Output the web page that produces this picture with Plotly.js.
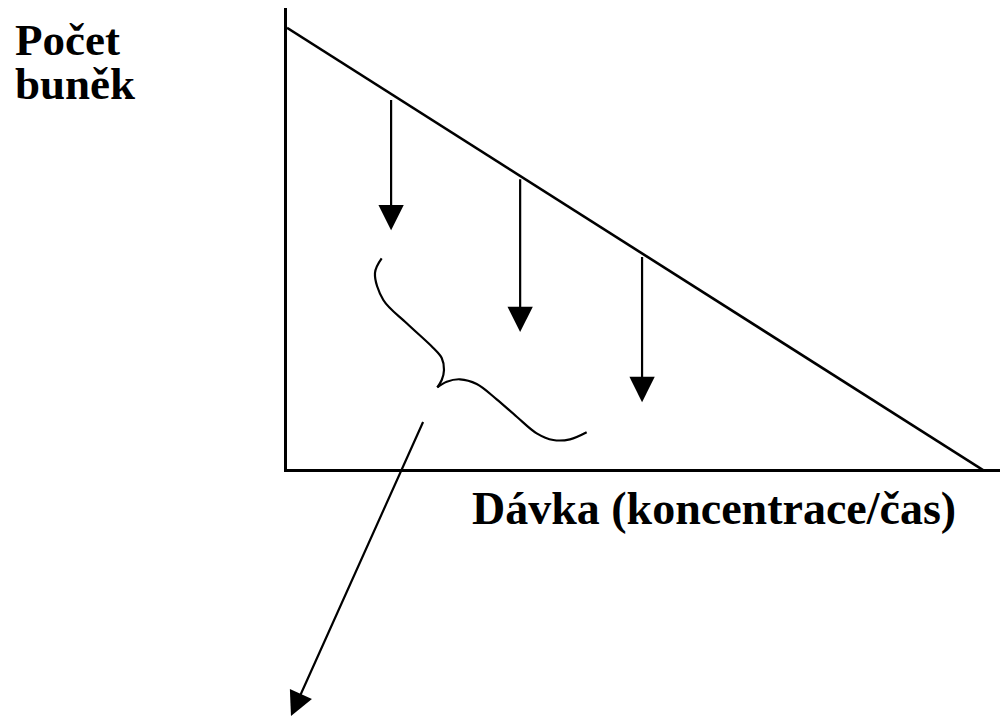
<!DOCTYPE html>
<html>
<head>
<meta charset="utf-8">
<script src="https://cdn.plot.ly/plotly-3.0.1.min.js"></script>
<style>
  html, body { margin: 0; padding: 0; background: #fff; }
  #chart { width: 1002px; height: 721px; }
</style>
</head>
<body>
<div id="chart"></div>
<script>
// ---- data (dose on x, cell count on y, arbitrary units 0..100) ----
var lineDose = [0, 98.3];
var lineCells = [95.7, -0.9];

var arrowDose = [14.6, 32.7, 49.8];
var arrowFrom = [80.5, 63.3, 46.4];
var arrowTo = [51.8, 29.7, 14.5];

var braceUpperDose = [13.28, 12.34, 13.51, 16.79, 20.48, 21.70, 22.02, 21.70, 21.08];
var braceUpperCells = [45.70, 42.52, 36.66, 31.61, 26.31, 24.08, 21.48, 19.31, 17.72];
var braceLowerDose = [21.08, 22.40, 24.26, 26.61, 29.41, 32.22, 35.02, 37.35, 39.69, 42.03];
var braceLowerCells = [17.72, 18.94, 19.46, 18.44, 15.12, 11.34, 7.74, 6.29, 6.44, 7.96];

var pointerFrom = [19.21, 10.63];
var pointerTo = [0.56, -53.58];

var yLabelLines = ['Počet', 'buněk'];
var xLabel = 'Dávka (koncentrace/čas)';

var FONT = '"Liberation Serif", "Times New Roman", serif';

var traces = [
  {
    x: lineDose, y: lineCells, mode: 'lines', type: 'scatter',
    line: {color: '#000', width: 2.6}, cliponaxis: false, hoverinfo: 'skip'
  },
  {
    x: braceUpperDose, y: braceUpperCells, mode: 'lines', type: 'scatter',
    line: {color: '#000', width: 2.2, shape: 'spline', smoothing: 1}, cliponaxis: false, hoverinfo: 'skip'
  },
  {
    x: braceLowerDose, y: braceLowerCells, mode: 'lines', type: 'scatter',
    line: {color: '#000', width: 2.2, shape: 'spline', smoothing: 1}, cliponaxis: false, hoverinfo: 'skip'
  }
];

var annotations = [];
for (var i = 0; i < arrowDose.length; i++) {
  annotations.push({
    xref: 'x', yref: 'y', axref: 'x', ayref: 'y',
    x: arrowDose[i], y: arrowTo[i], ax: arrowDose[i], ay: arrowFrom[i],
    showarrow: true, arrowhead: 2, arrowwidth: 2.2, arrowsize: 2.3,
    arrowcolor: '#000', font: {size: 1}
  });
}
annotations.push({
  xref: 'x', yref: 'y', axref: 'x', ayref: 'y',
  x: pointerTo[0], y: pointerTo[1], ax: pointerFrom[0], ay: pointerFrom[1],
  showarrow: true, arrowhead: 2, arrowwidth: 2.2, arrowsize: 2.2,
  arrowcolor: '#000', font: {size: 1}
});
annotations.push({
  xref: 'paper', yref: 'paper', x: -0.3843, y: 0.93,
  xanchor: 'left', yanchor: 'middle', showarrow: false,
  text: '<b>' + yLabelLines[0] + '</b>', font: {family: FONT, size: 45, color: '#000'}
});
annotations.push({
  xref: 'paper', yref: 'paper', x: -0.3843, y: 0.835,
  xanchor: 'left', yanchor: 'middle', showarrow: false,
  text: '<b>' + yLabelLines[1] + '</b>', font: {family: FONT, size: 45, color: '#000'}
});
annotations.push({
  xref: 'paper', yref: 'paper', x: 0.5989, y: -0.0846,
  xanchor: 'center', yanchor: 'middle', showarrow: false,
  text: '<b>' + xLabel + '</b>', font: {family: FONT, size: 46, color: '#000'}
});

var layout = {
  width: 1002, height: 721,
  margin: {l: 287, r: 2, t: 8, b: 252, pad: 0},
  paper_bgcolor: '#fff', plot_bgcolor: '#fff',
  showlegend: false,
  xaxis: {
    range: [0, 100], showline: true, linecolor: '#000', linewidth: 3,
    showgrid: false, zeroline: false, showticklabels: false, ticks: '', fixedrange: true
  },
  yaxis: {
    range: [0, 100], showline: true, linecolor: '#000', linewidth: 3,
    showgrid: false, zeroline: false, showticklabels: false, ticks: '', fixedrange: true
  },
  annotations: annotations
};

Plotly.newPlot('chart', traces, layout, {displayModeBar: false, staticPlot: true});
</script>
</body>
</html>
